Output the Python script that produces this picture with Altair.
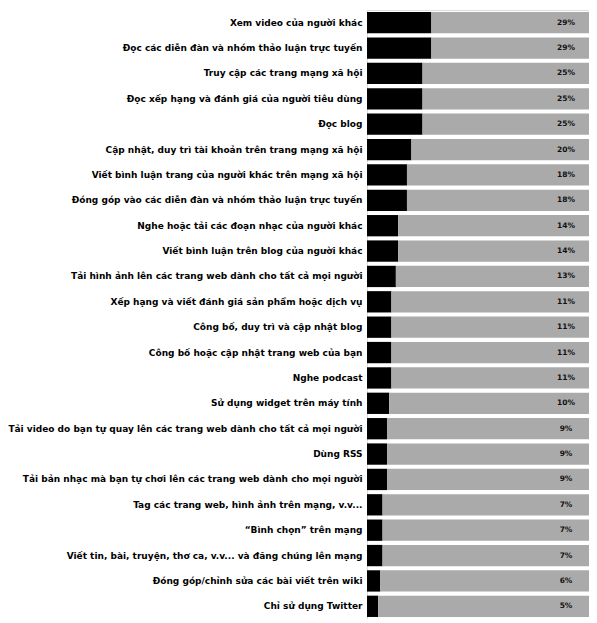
import altair as alt
import pandas as pd

categories = [
    "Xem video của người khác",
    "Đọc các diễn đàn và nhóm thảo luận trực tuyến",
    "Truy cập các trang mạng xã hội",
    "Đọc xếp hạng và đánh giá của người tiêu dùng",
    "Đọc blog",
    "Cập nhật, duy trì tài khoản trên trang mạng xã hội",
    "Viết bình luận trang của người khác trên mạng xã hội",
    "Đóng góp vào các diễn đàn và nhóm thảo luận trực tuyến",
    "Nghe hoặc tải các đoạn nhạc của người khác",
    "Viết bình luận trên blog của người khác",
    "Tải hình ảnh lên các trang web dành cho tất cả mọi người",
    "Xếp hạng và viết đánh giá sản phẩm hoặc dịch vụ",
    "Công bố, duy trì và cập nhật blog",
    "Công bố hoặc cập nhật trang web của bạn",
    "Nghe podcast",
    "Sử dụng widget trên máy tính",
    "Tải video do bạn tự quay lên các trang web dành cho tất cả mọi người",
    "Dùng RSS",
    "Tải bản nhạc mà bạn tự chơi lên các trang web dành cho mọi người",
    "Tag các trang web, hình ảnh trên mạng, v.v...",
    "\u201cBình chọn\u201d trên mạng",
    "Viết tin, bài, truyện, thơ ca, v.v... và đăng chúng lên mạng",
    "Đóng góp/chỉnh sửa các bài viết trên wiki",
    "Chỉ sử dụng Twitter",
]
values = [29, 29, 25, 25, 25, 20, 18, 18, 14, 14, 13, 11, 11, 11, 11, 10, 9, 9, 9, 7, 7, 7, 6, 5]

rows = []
for c, v in zip(categories, values):
    rows.append({"cat": c, "seg": "Có", "val": v, "ord": 0})
    rows.append({"cat": c, "seg": "Không", "val": 100 - v, "ord": 1})
df = pd.DataFrame(rows)
lab = pd.DataFrame({"cat": categories, "label": [f"{v}%" for v in values]})

y_enc = alt.Y(
    "cat:N",
    sort=categories,
    title=None,
    scale=alt.Scale(paddingInner=0.16, paddingOuter=0.08),
    axis=alt.Axis(
        domain=False,
        ticks=False,
        labelPadding=5,
        labelFont="DejaVu Sans",
        labelFontWeight="bold",
        labelFontSize=9,
        labelColor="#000000",
        labelLimit=400,
    ),
)

bars = alt.Chart(df).mark_bar().encode(
    y=y_enc,
    x=alt.X("val:Q", stack="zero", scale=alt.Scale(domain=[0, 100]), axis=None),
    color=alt.Color(
        "seg:N",
        scale=alt.Scale(domain=["Có", "Không"], range=["#000000", "#aaaaaa"]),
        legend=None,
    ),
    order=alt.Order("ord:Q"),
)

texts = alt.Chart(lab).mark_text(
    font="DejaVu Sans", fontWeight="bold", fontSize=7.5, color="#111111", align="center"
).encode(
    y=alt.Y("cat:N", sort=categories),
    x=alt.value(199),
    text="label:N",
)

chart = (
    alt.layer(bars, texts)
    .properties(
        width=222,
        height=609,
        autosize=alt.AutoSizeParams(type="none"),
        padding={"left": 359, "right": 0, "top": 2, "bottom": 0},
    )
    .configure_view(stroke=None)
    .configure(background="#ffffff")
)

chart.save("out.html", embed_options={"renderer": "svg", "actions": False})
